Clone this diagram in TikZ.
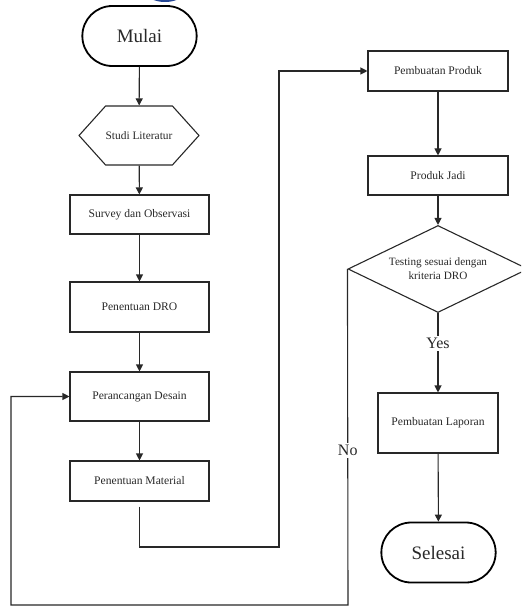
\documentclass[tikz,border=0pt]{standalone}
\usepackage{fontspec}
\setmainfont{Liberation Serif}
\usepackage{tikz}
\usetikzlibrary{calc, shapes.misc, shapes.geometric, shapes.symbols, arrows.meta}

\definecolor{logo_blue}{RGB}{38, 72, 150}
\definecolor{ink}{RGB}{40, 40, 40}

\tikzset{
    >={Triangle[length=7pt, width=7pt]},
    flow/.style={ink, line width=1.1pt},
    terminal/.style={draw = black, line width = 1.8pt, rounded rectangle, minimum width = 121pt, minimum height = 60pt, text = ink, font = \fontsize{19}{22}\selectfont},
    process/.style={draw = ink, line width = 1.1pt, rectangle, minimum width = 139pt, minimum height = 40pt, text = ink, font = \fontsize{11.6}{13.5}\selectfont},
    hexa/.style={draw = ink, line width = 1.1pt, signal, signal to = west and east, signal pointer angle = 96, minimum width = 100pt, minimum height = 59pt, inner sep = 0pt, text = ink, font = \fontsize{11.4}{13.5}\selectfont},
    decision/.style={draw = ink, line width = 1.1pt, diamond, aspect = 2, minimum width = 180pt, minimum height = 87pt, inner sep = 0pt, align = center, text = ink, font = \fontsize{11.2}{14}\selectfont},
    answer/.style={fill = white, text = ink, inner sep = 2pt, font = \fontsize{16}{18}\selectfont}
}

\begin{document}
\begin{tikzpicture}[x = 1pt, y = -1pt]
                    \useasboundingbox (0, 0) rectangle (521, 609);
                    \clip (0, 0) rectangle (521, 609);
                    
                    \fill[logo_blue] (165, -8) ellipse (19pt and 10pt);
                    
                    % left column
                    \node[terminal] (mulai) at (139.5, 36) {Mulai};
                    \node[hexa] (studi_lit) at (139, 135.5) {Studi Literatur};
                    \node[process, minimum height = 39pt] (survey) at (139.5, 214.5) {Survey dan Observasi};
                    \node[process, minimum height = 50pt] (dro) at (139.5, 307) {Penentuan DRO};
                    \node[process, minimum height = 49pt] (desain) at (139.5, 396.5) {Perancangan Desain};
                    \node[process] (material) at (139.5, 481) {Penentuan Material};
                    
                    % right column
                    \node[process, minimum width = 140pt] (buat_produk) at (438, 71) {Pembuatan Produk};
                    \node[process, minimum width = 140pt, minimum height = 39pt] (produk_jadi) at (438, 175.5) {Produk Jadi};
                    \node[decision] (testing) at (438, 269) {Testing sesuai dengan\\kriteria DRO};
                    \node[process, minimum width = 120pt, minimum height = 60pt] (laporan) at (438, 423) {Pembuatan Laporan};
                    \node[terminal] (selesai) at (438.5, 552.5) {Selesai};
                    
                    \coordinate (bend_low) at (279, 547);
                    \coordinate (loop_br) at (348, 605);
                    \coordinate (loop_bl) at (11, 605);
                    
                    \draw[flow, ->] (mulai) -- (studi_lit);
                    \draw[flow, ->] (studi_lit) -- (survey);
                    \draw[flow, ->] (survey) -- (dro);
                    \draw[flow, ->] (dro) -- (desain);
                    \draw[flow, ->] (desain) -- (material);
                    \draw[flow, ->, shorten <= 5pt] (material.south) -- (material.south |- bend_low) -- (bend_low) |- (buat_produk.west);
                    
                    \draw[flow, ->] (buat_produk) -- (produk_jadi);
                    \draw[flow, ->] (produk_jadi) -- (testing);
                    \draw[flow, ->] (testing.south) -- node[answer, pos = 0.38] {Yes} (laporan.north);
                    \draw[flow, ->] (laporan) -- (selesai);
                    \draw[flow, ->] (testing.west) -- node[answer, pos = 0.54] {No} (loop_br) -- (loop_bl) |- (desain.west);
                \end{tikzpicture}
\end{document}
